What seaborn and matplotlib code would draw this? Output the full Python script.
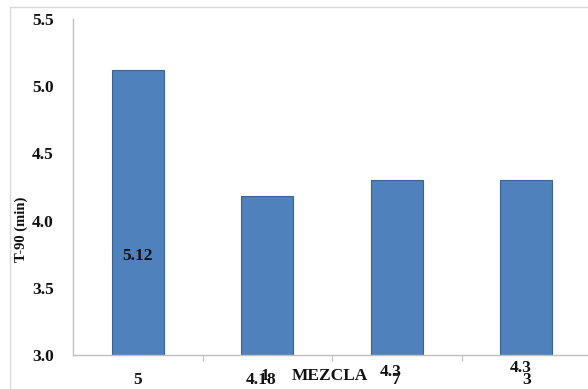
import matplotlib
matplotlib.use("Agg")
import matplotlib.pyplot as plt
import matplotlib.transforms as mtransforms
from matplotlib.patches import Rectangle
from matplotlib.ticker import FixedLocator
import seaborn as sns
import pandas as pd

# Data
mezclas = ["5", "1", "7", "3"]
t90 = [5.12, 4.18, 4.30, 4.30]
y_ticks = [3.0, 3.5, 4.0, 4.5, 5.0, 5.5]

sns.set_theme(style="white")
plt.rcParams["font.family"] = ["Liberation Serif", "DejaVu Serif"]
plt.rcParams["font.weight"] = "bold"

W, H = 588, 389
FS = 12.5
fig = plt.figure(figsize=(W / 100, H / 100), dpi=100)
fig.patch.set_facecolor("white")

# plot area in pixels: x 73..588, y 19..355
ax = fig.add_axes([73 / W, (H - 355) / H, (W - 73) / W, (355 - 19) / H])

df = pd.DataFrame({"MEZCLA": mezclas, "T90": t90})
sns.barplot(data=df, x="MEZCLA", y="T90", order=mezclas, color="#4f81bd",
            saturation=1, width=0.40, edgecolor="#3b6396", linewidth=0.8,
            ax=ax)

ax.set_ylim(3.0, 5.5)
ax.set_xlim(-0.5, -0.5 + 515 / 129.5)
ax.set_yticks(y_ticks)
ax.set_yticklabels([f"{t:.1f}" for t in y_ticks], fontsize=FS,
                   fontweight="bold", color="#111111")
ax.tick_params(axis="y", length=0, pad=14)

# category labels below the axis, separators between categories
ax.set_xticks(range(len(mezclas)))
ax.set_xticklabels(mezclas, fontsize=FS, fontweight="bold", color="#111111")
ax.tick_params(axis="x", which="major", length=0, pad=12)
ax.xaxis.set_minor_locator(FixedLocator([0.5, 1.5, 2.5]))
ax.tick_params(axis="x", which="minor", length=4, width=0.8,
               color="#bfbfbf", direction="out", bottom=True)
lbl = ax.get_xticklabels()[1]
lbl.set_transform(lbl.get_transform() +
                  mtransforms.ScaledTranslation(-0.02, 4 / 100, fig.dpi_scale_trans))

for s in ["top", "right"]:
    ax.spines[s].set_visible(False)
for s in ["left", "bottom"]:
    ax.spines[s].set_color("#bfbfbf")
    ax.spines[s].set_linewidth(1.0)

ax.set_ylabel("T-90 (min)", fontsize=10.5, fontweight="bold", color="#111111")
ax.yaxis.set_label_coords((28 - 73) / 515, (355 - 229) / 336)
ax.set_xlabel("MEZCLA", fontsize=FS, fontweight="bold", color="#111111")
ax.xaxis.set_label_coords((330 - 73) / 515, -(376 - 355) / 336)
ax.xaxis.label.set_va("center")

# value labels
label_pos = [(0.0, 3.737), (-0.05, 2.814), (-0.05, 2.874), (-0.04, 2.903)]
for i, (v, (dx, y)) in enumerate(zip(t90, label_pos)):
    ax.text(i + dx, y, f"{v:g}", ha="center", va="center", fontsize=FS,
            fontweight="bold", color="#111111", clip_on=False)

# chart frame
fig.patches.append(Rectangle((10 / W, -0.2), 1.2, 1.2 - 7 / H,
                             transform=fig.transFigure, fill=False,
                             edgecolor="#d9d9d9", linewidth=1.0))

fig.savefig("out.png", dpi=100)
